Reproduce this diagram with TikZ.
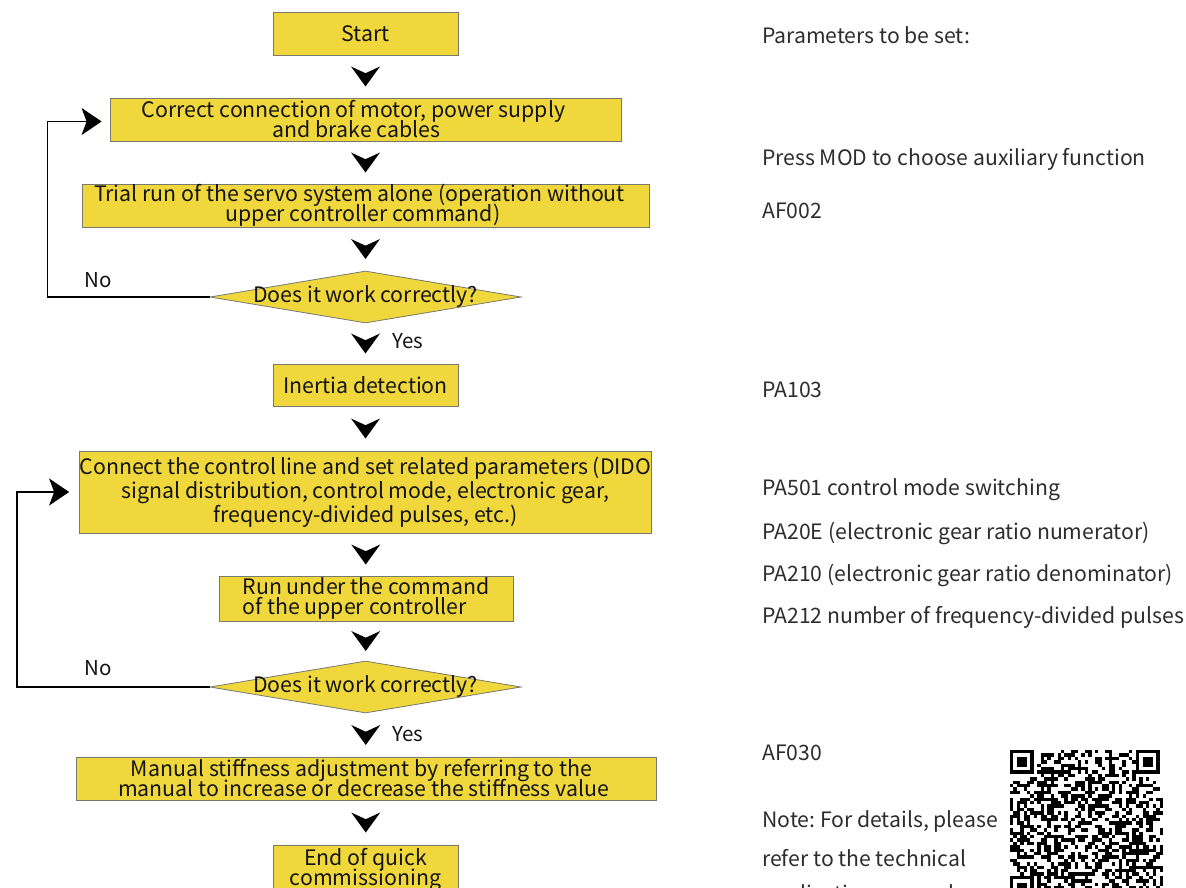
\documentclass[tikz,border=0pt]{standalone}
\usepackage{fontspec}
\setmainfont{Noto Sans CJK SC}
\usetikzlibrary{arrows.meta,shapes.geometric}
\definecolor{boxyellow}{RGB}{240,216,60}
\definecolor{boxedge}{RGB}{120,120,110}
\definecolor{txt}{RGB}{20,20,20}
\definecolor{side}{RGB}{45,45,45}
\newcommand\tightlines{\lineskiplimit=-100pt\lineskip=0pt}
\newcommand\pushl[1]{\hspace*{#1pt}}
\tikzset{
  stepbox/.style={draw=boxedge, line width=0.8pt, fill=boxyellow, inner sep=0pt, align=center,
    text=txt, font=\fontsize{21.3}{20}\selectfont\tightlines},
  decide/.style={diamond, draw=boxedge, line width=0.8pt, fill=boxyellow, inner sep=0pt,
    minimum width=311pt, minimum height=52pt, aspect=6},
  decidetext/.style={text=txt, font=\fontsize{21.3}{20}\selectfont},
  sidetext/.style={anchor=west, text=side, font=\fontsize{21.2}{24}\selectfont, inner sep=0pt},
  lbl/.style={text=txt, font=\fontsize{20.5}{24}\selectfont, inner sep=0pt},
  fb/.style={line width=1.2pt, -{Stealth[length=20pt,width=27pt,inset=5pt]}},
}
\newcommand\chevdown[2]{%
  \path (#1.south) -- (#2.north) coordinate[midway] (m-#1);
  \fill[black] (m-#1) ++(0,10) -- ++(-14.5,-20) -- ++(14.5,6.7) -- ++(14.5,-6.7) -- cycle;}
\begin{document}
\frenchspacing
\begin{tikzpicture}[x=1pt,y=-1pt]
\useasboundingbox (0,0) rectangle (1186,888);
\clip (0,0) rectangle (1186,888);
\fill[white] (0,0) rectangle (1186,888);

% flowchart boxes
\node[stepbox, minimum width=185pt, minimum height=43pt] (start) at (365.5,33.5) {Start};
\node[stepbox, minimum width=511pt, minimum height=43pt] (b2) at (365.5,119.5)
  {Correct connection of motor, power supply\pushl{24}\\and brake cables\pushl{18}};
\node[stepbox, minimum width=567pt, minimum height=43pt] (b3) at (365.5,205.5)
  {Trial run of the servo system alone (operation without\pushl{12}\\upper controller command)\pushl{5}};
\node[decide, label={[decidetext]center:Does it work correctly?}] (d1) at (365.5,297) {};
\node[stepbox, minimum width=185pt, minimum height=42pt] (b4) at (365.5,385) {Inertia detection};
\node[stepbox, minimum width=567pt, minimum height=82pt, font=\fontsize{21.3}{24}\selectfont\tightlines] (b5) at (365.5,492)
  {Connect the control line and set related parameters (DIDO\\signal distribution, control mode, electronic gear,\\frequency-divided pulses, etc.)};
\node[stepbox, minimum width=294pt, minimum height=45pt, align=left] (b6) at (366,598.5)
  {Run under the command\\of the upper controller};
\node[decide, label={[decidetext]center:Does it work correctly?}] (d2) at (365.5,687) {};
\node[stepbox, minimum width=580pt, minimum height=43pt] (b7) at (366,778.5)
  {Manual stiffness adjustment by referring to the\pushl{9}\\manual to increase or decrease the stiffness value\pushl{5}};
\node[stepbox, minimum width=185pt, minimum height=50pt] (b8) at (365.5,870)
  {End of quick\\commissioning};

% down chevrons
\chevdown{start}{b2}
\chevdown{b2}{b3}
\chevdown{b3}{d1}
\chevdown{d1}{b4}
\chevdown{b4}{b5}
\chevdown{b5}{b6}
\chevdown{b6}{d2}
\chevdown{d2}{b7}
\chevdown{b7}{b8}

% labels
\node[lbl, anchor=west] (yes1) at (392,341) {Yes};
\node[lbl, anchor=west] (yes2) at (392,734) {Yes};
\node[lbl, anchor=west] (no1) at (84,280) {No};
\node[lbl, anchor=west] (no2) at (84,668) {No};

% feedback loops
\coordinate (k1) at (47.5,0);
\coordinate (k2) at (17,0);
\draw[fb] (d1.west) -- (d1.west -| k1) |- ([xshift=-8pt,yshift=-2pt]b2.west);
\draw[fb] (d2.west) -- (d2.west -| k2) |- ([xshift=-10pt]b5.west);

% right side text
\node[sidetext] (t1) at (762,35) {Parameters to be set:};
\node[sidetext] (t2) at (762,159) {Press MOD to choose auxiliary function};
\node[sidetext] (t3) at (762,211) {AF002};
\node[sidetext] (t4) at (762,390) {PA103};
\node[sidetext] (t5) at (762,490) {PA501 control mode switching};
\node[sidetext] (t6) at (762,533) {PA20E (electronic gear ratio numerator)};
\node[sidetext] (t7) at (762,575) {PA210 (electronic gear ratio denominator)};
\node[sidetext] (t8) at (762,617) {PA212 number of frequency-divided pulses};
\node[sidetext] (t9) at (762,753) {AF030};
\node[sidetext] (t10) at (762,821) {Note: For details, please};
\node[sidetext] (t11) at (762,858) {refer to the technical};
\node[sidetext] (t12) at (762,895) {application manual};

% QR-like code
\begin{scope}[shift={(1010,750)}]
  \pgfmathsetseed{7}
  \foreach \i in {0,...,44}{
    \foreach \j in {0,...,44}{
      \pgfmathparse{rnd}
      \ifdim\pgfmathresult pt<0.5pt
        \fill[black] (\i*3.4,\j*3.4) rectangle ++(3.45,3.45);
      \fi
    }
  }
  \foreach \ox/\oy in {0/0, 37/0, 0/37}{
    \fill[white] (\ox*3.4-0.01,\oy*3.4-0.01) rectangle ++(8*3.4,8*3.4);
    \fill[black] (\ox*3.4,\oy*3.4) rectangle ++(7*3.4,7*3.4);
    \fill[white] (\ox*3.4+3.4,\oy*3.4+3.4) rectangle ++(5*3.4,5*3.4);
    \fill[black] (\ox*3.4+6.8,\oy*3.4+6.8) rectangle ++(3*3.4,3*3.4);
  }
\end{scope}
\end{tikzpicture}
\end{document}
